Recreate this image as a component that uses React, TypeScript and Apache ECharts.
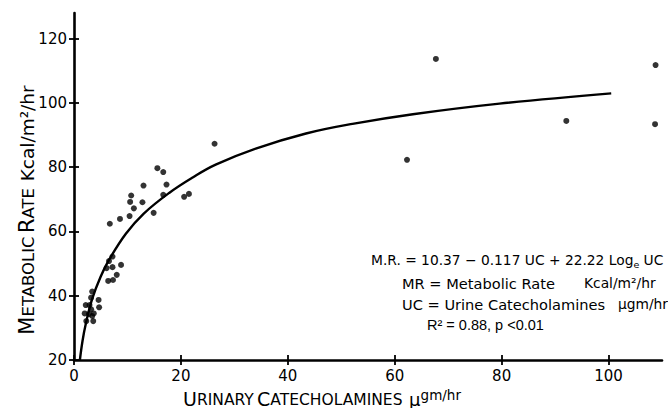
import React, { useEffect, useRef } from "react";
import * as echarts from "echarts";

// Scatter observations (urinary catecholamines µg/hr, metabolic rate kcal/m²/hr)
const ucValues = [
  15.6, 16.7, 17.3, 16.7, 13.0, 10.7, 10.5, 11.2, 12.8, 10.4, 14.9, 8.6, 6.7, 20.6, 21.5,
  6.55, 7.2, 6.1, 7.2, 8.0, 8.8, 6.4, 7.3,
  3.4, 3.2, 4.6, 2.2, 2.9, 4.7, 3.2, 2.0, 2.8, 3.7, 2.3, 3.6, 3.4,
  26.3, 62.3, 67.7, 92.1, 108.8, 108.7,
];
const mrValues = [
  79.7, 78.5, 74.6, 71.4, 74.3, 71.2, 69.2, 67.2, 69.1, 64.8, 65.8, 63.9, 62.4, 70.8, 71.7,
  50.8, 52.2, 48.6, 48.9, 46.5, 49.6, 44.6, 44.9,
  41.3, 39.4, 38.7, 37.1, 37.1, 36.4, 35.8, 34.5, 34.3, 34.5, 32.1, 32.1, 33.7,
  87.3, 82.3, 113.7, 94.4, 111.8, 93.4,
];

// Fitted curve
const curveUc = [1.1, 1.6, 2.2, 3.4, 5.0, 6.6, 9.7, 13.0, 17.8, 22.2, 26.5, 34, 43.4, 52.1, 63.4, 79.6, 100.5];
const curveMr = [20, 26, 31.2, 39, 46, 51.3, 59.3, 65.5, 72, 76.8, 80.8, 85.8, 90.5, 93.5, 96.5, 99.8, 103];

const xTicks = [0, 20, 40, 60, 80, 100];
const yTicks = [20, 40, 60, 80, 100, 120];

const FONT = "DejaVu Sans";
const INK = "#000";

export default function App() {
  const ref = useRef<HTMLDivElement>(null);

  useEffect(() => {
    if (!ref.current) return;
    const chart = echarts.init(ref.current, undefined, { renderer: "svg" });

    const scatterData = ucValues.map((x, i) => [x, mrValues[i]]);
    const curveData = curveUc.map((x, i) => [x, curveMr[i]]);

    const tickStyle = { color: INK, width: 1.8 };
    const annot = (x: number, y: number, text: string, font = FONT, size = 14.6) => ({
      type: "text",
      x,
      y,
      style: {
        text,
        textAlign: "left",
        textVerticalAlign: "middle",
        fill: INK,
        fontSize: size,
        fontFamily: font,
      },
    });

    chart.setOption({
      animation: false,
      backgroundColor: "#fff",
      grid: { left: 74, right: 6, top: 13, bottom: 48, outerBoundsMode: "none" },
      xAxis: [
        {
          type: "value",
          min: 0,
          max: 110,
          splitLine: { show: false },
          axisLine: { show: true, lineStyle: { color: INK, width: 2.6 } },
          axisTick: { show: true, length: 5, customValues: xTicks, lineStyle: tickStyle },
          axisLabel: { customValues: xTicks, margin: 8, color: INK, fontSize: 15, fontFamily: FONT },
        },
        {
          type: "value",
          min: 0,
          max: 110,
          position: "bottom",
          splitLine: { show: false },
          axisLine: { show: false },
          axisTick: { show: true, inside: true, length: 5, customValues: xTicks, lineStyle: tickStyle },
          axisLabel: { show: false },
        },
      ],
      yAxis: [
        {
          type: "value",
          min: 20,
          max: 128,
          splitLine: { show: false },
          axisLine: { show: true, lineStyle: { color: INK, width: 2.6 } },
          axisTick: { show: true, length: 5, customValues: yTicks, lineStyle: tickStyle },
          axisLabel: { customValues: yTicks, margin: 7, color: INK, fontSize: 15, fontFamily: FONT },
        },
        {
          type: "value",
          min: 20,
          max: 128,
          position: "left",
          splitLine: { show: false },
          axisLine: { show: false },
          axisTick: { show: true, inside: true, length: 5, customValues: yTicks, lineStyle: tickStyle },
          axisLabel: { show: false },
        },
      ],
      series: [
        {
          type: "line",
          xAxisIndex: 0,
          yAxisIndex: 0,
          data: curveData,
          smooth: 0.4,
          showSymbol: false,
          symbol: "none",
          lineStyle: { color: INK, width: 2.4 },
          z: 2,
        },
        {
          type: "scatter",
          xAxisIndex: 0,
          yAxisIndex: 0,
          data: scatterData,
          symbol: "circle",
          symbolSize: 6,
          itemStyle: { color: INK },
          z: 3,
        },
      ],
      graphic: [
        {
          type: "text",
          x: 26,
          y: 210,
          rotation: Math.PI / 2,
          style: {
            text: "{b|M}{s|ETABOLIC} {b|R}{s|ATE}  {n|Kcal/m²/hr}",
            textAlign: "center",
            textVerticalAlign: "middle",
            fill: INK,
            rich: {
              b: { fontSize: 21, fontFamily: FONT, fill: INK, verticalAlign: "bottom", lineHeight: 22 },
              s: { fontSize: 16.5, fontFamily: FONT, fill: INK, verticalAlign: "bottom", lineHeight: 22 },
              n: { fontSize: 18.5, fontFamily: FONT, fill: INK, verticalAlign: "bottom", lineHeight: 22 },
            },
          },
        },
        {
          type: "text",
          x: 322,
          y: 398,
          style: {
            text: "{b|U}{s|RINARY} {b|C}{s|ATECHOLAMINES}  {m|μ}{g|gm/hr}",
            textAlign: "center",
            textVerticalAlign: "middle",
            fill: INK,
            rich: {
              b: { fontSize: 19, fontFamily: FONT, fill: INK, verticalAlign: "bottom", lineHeight: 20 },
              s: { fontSize: 15.5, fontFamily: FONT, fill: INK, verticalAlign: "bottom", lineHeight: 20 },
              m: { fontSize: 18, fontFamily: FONT, fill: INK, verticalAlign: "bottom", lineHeight: 20 },
              g: { fontSize: 13.5, fontFamily: FONT, fill: INK, verticalAlign: "top", lineHeight: 20 },
            },
          },
        },
        {
          type: "text",
          x: 371,
          y: 260,
          style: {
            text: "{n|M.R. = 10.37 − 0.117 UC + 22.22 Log}{sub|e}{n| UC}",
            textAlign: "left",
            textVerticalAlign: "middle",
            fill: INK,
            rich: {
              n: { fontSize: 13.8, fontFamily: FONT, fill: INK, lineHeight: 18, verticalAlign: "middle" },
              sub: { fontSize: 9.5, fontFamily: FONT, fill: INK, lineHeight: 18, verticalAlign: "bottom" },
            },
          },
        },
        annot(402, 283, "MR = Metabolic Rate"),
        annot(584, 283, "Kcal/m²/hr", FONT, 13.8),
        annot(402, 304, "UC = Urine Catecholamines"),
        annot(618, 304, "μgm/hr", FONT, 13.8),
        annot(427, 325, "R² = 0.88, p <0.01", "Liberation Sans", 14.5),
      ],
    });

    return () => {
      chart.dispose();
    };
  }, []);

  return (
    <div
      ref={ref}
      style={{ position: "fixed", left: 0, top: 0, width: 668, height: 408, background: "#fff" }}
    />
  );
}
